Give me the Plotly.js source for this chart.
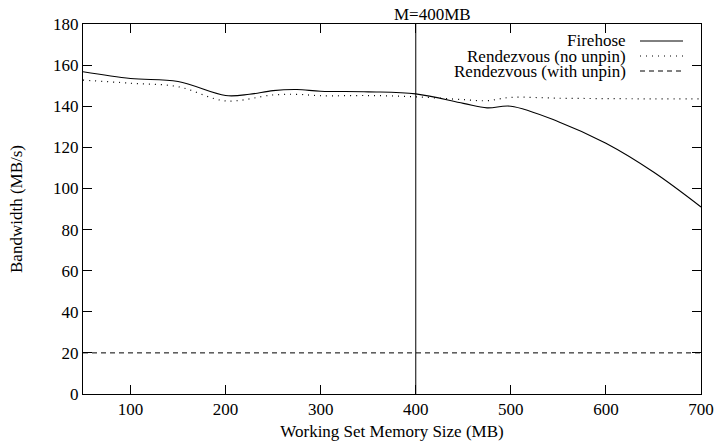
<!DOCTYPE html>
<html>
<head>
<meta charset="utf-8">
<script src="https://cdn.plot.ly/plotly-3.0.1.min.js"></script>
<style>html,body{margin:0;padding:0;background:#fff;}#chart{width:717px;height:442px;}</style>
</head>
<body>
<div id="chart"></div>
<script>
var seriesNames = ["Firehose", "Rendezvous (no unpin)", "Rendezvous (with unpin)"];

var firehoseX = [50, 100, 150, 200, 225, 250, 275, 300, 350, 400, 450, 475, 500, 550, 600, 650, 700];
var firehoseY = [156.8, 153.5, 152, 145.2, 145.8, 147.6, 148.1, 147.3, 147, 146, 141.4, 139.2, 140, 132.5, 122, 108, 91];

var noUnpinX = [50, 100, 150, 200, 250, 275, 300, 350, 400, 450, 475, 500, 550, 600, 650, 700];
var noUnpinY = [152.7, 151.2, 149.5, 142.6, 145.5, 145.8, 145.1, 145.2, 144.6, 143.2, 142.7, 144.3, 143.9, 143.7, 143.6, 143.6];

var withUnpinX = [50, 700];
var withUnpinY = [20, 20];

var markerX = 400;
var markerLabel = "M=400MB";
var yTicks = [0, 20, 40, 60, 80, 100, 120, 140, 160, 180];
var xTicks = [100, 200, 300, 400, 500, 600, 700];

var font = "'Liberation Serif', 'Times New Roman', Times, serif";
var dashes = ["solid", "1px,5px", "5px,4px"];

var traces = [
  {x: firehoseX, y: firehoseY, mode: "lines", name: seriesNames[0],
   line: {color: "#000", width: 1.1, shape: "spline", smoothing: 1, dash: dashes[0]}},
  {x: noUnpinX, y: noUnpinY, mode: "lines", name: seriesNames[1],
   line: {color: "#000", width: 1.2, shape: "spline", smoothing: 1, dash: dashes[1]}},
  {x: withUnpinX, y: withUnpinY, mode: "lines", name: seriesNames[2],
   line: {color: "#000", width: 1, dash: dashes[2]}},
  {x: [markerX, markerX], y: [yTicks[0], yTicks[yTicks.length - 1]], mode: "lines", showlegend: false,
   line: {color: "#000", width: 1}, hoverinfo: "skip"}
];

// gnuplot-style legend: right-aligned text then line sample
var annotations = [];
var shapes = [];
var legendRowsPx = [41, 56, 71];
var H = 442, mt = 24, mb = 48;
var plotH = H - mt - mb;
for (var i = 0; i < seriesNames.length; i++) {
  var yp = 1 - (legendRowsPx[i] - mt) / plotH;
  annotations.push({text: seriesNames[i], xref: "paper", yref: "paper", x: (628 - 83) / 618, y: yp,
    xanchor: "right", yanchor: "middle", showarrow: false,
    font: {family: font, size: 17, color: "#000"}});
  shapes.push({type: "line", xref: "paper", yref: "paper", x0: (640 - 83) / 618, x1: (683 - 83) / 618,
    y0: yp, y1: yp, line: {color: "#000", width: i === 1 ? 1.2 : 1, dash: dashes[i]}});
}
annotations.push({text: markerLabel, xref: "x", yref: "paper", x: markerX + 18, y: 1, yanchor: "bottom",
  xanchor: "center", yshift: -2, showarrow: false, font: {family: font, size: 17, color: "#000"}});

var layout = {
  width: 717, height: 442,
  margin: {l: 83, r: 16, t: mt, b: mb},
  paper_bgcolor: "#fff", plot_bgcolor: "#fff",
  showlegend: false,
  font: {family: font, size: 17, color: "#000"},
  xaxis: {range: [50, 700], tickvals: xTicks, ticktext: xTicks.map(String), ticks: "inside", ticklen: 9,
    tickcolor: "#000", tickwidth: 1, showline: true, linecolor: "#000", linewidth: 1, mirror: "ticks",
    showgrid: false, zeroline: false,
    title: {text: "Working Set Memory Size (MB)", font: {family: font, size: 17, color: "#000"}, standoff: 6}},
  yaxis: {range: [0, 180], tickvals: yTicks, ticktext: yTicks.map(String), ticks: "inside", ticklen: 9,
    tickcolor: "#000", tickwidth: 1, showline: true, linecolor: "#000", linewidth: 1, mirror: "ticks",
    showgrid: false, zeroline: false,
    title: {text: "Bandwidth (MB/s)", font: {family: font, size: 17, color: "#000"}, standoff: 26}},
  annotations: annotations,
  shapes: shapes
};

Plotly.newPlot("chart", traces, layout, {displayModeBar: false, staticPlot: true});
</script>
</body>
</html>
